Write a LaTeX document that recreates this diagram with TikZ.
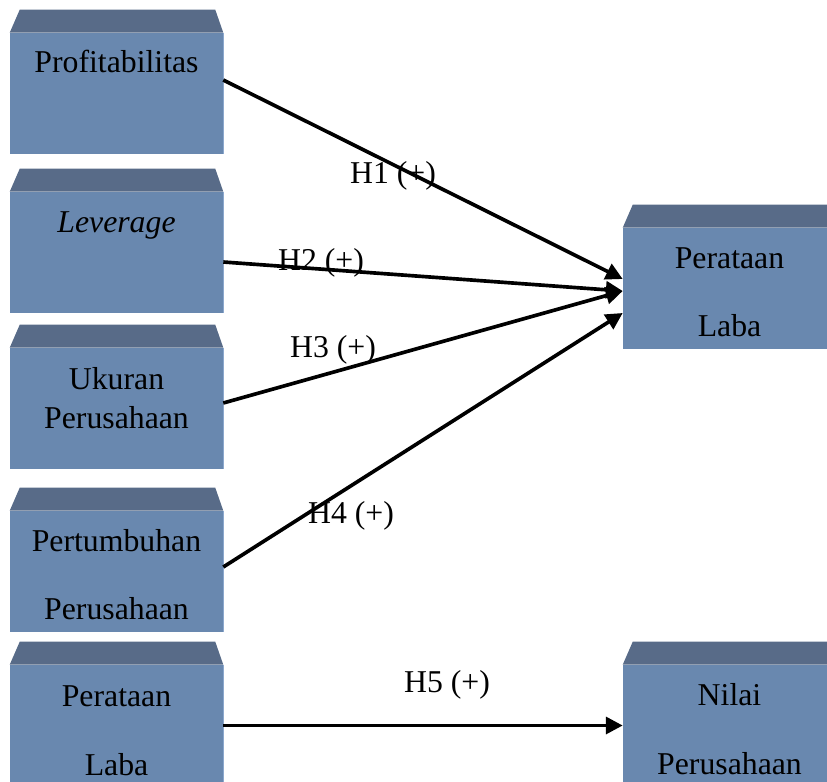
\documentclass[tikz,border=0pt]{standalone}
\usepackage{fontspec}
\setmainfont{Liberation Serif}
\usetikzlibrary{arrows.meta,calc}
\definecolor{mukaBiru}{RGB}{105,136,175}
\definecolor{atasBiru}{RGB}{88,107,136}
\definecolor{tepiBiru}{RGB}{140,168,205}
\tikzset{
  blok/.style={rectangle, fill=mukaBiru, minimum width=53.25mm, minimum height=30.25mm, inner sep=0pt},
  teks/.style={font=\fontsize{22.6}{26}\selectfont, inner sep=0pt, anchor=base},
  panah/.style={line width=2.6pt, -{Triangle[length=4.2mm,width=4.2mm]}}
}
\begin{document}
\begin{tikzpicture}[x=0.25mm,y=-0.25mm]
      \useasboundingbox (0,0) rectangle (827,782);
      \clip (0,0) rectangle (827,782);
      % kotak variabel
      \node[blok] (prof) at (116.5,93.5) {};
      \node[blok] (lev) at (116.5,252.5) {};
      \node[blok] (ukuran) at (116.5,408.5) {};
      \node[blok] (tumbuh) at (116.5,571.5) {};
      \node[blok] (laba2) at (116.5,725.5) {};
      \node[blok] (laba) at (729.5,288.5) {};
      \node[blok] (nilai) at (729.5,725.5) {};
      % sisi atas kotak
      \foreach \n in {prof,lev,ukuran,tumbuh,laba2,laba,nilai}{
        \fill[atasBiru] (\n.north west) -- ($(\n.north west)+(10,-23)$) -- ($(\n.north east)+(-8,-23)$) -- (\n.north east) -- cycle;
        \draw[tepiBiru, line width=1pt] (\n.north east) -- (\n.south east);
      }
      % teks
      \node[teks] (prof-a) at ($(prof.north)+(0,40)$) {Profitabilitas};
      \node[teks] (lev-a) at ($(lev.north)+(0,41)$) {\textit{Leverage}};
      \node[teks] (ukuran-a) at ($(ukuran.north)+(0,42)$) {Ukuran};
      \node[teks] (ukuran-b) at ($(ukuran.north)+(0,81)$) {Perusahaan};
      \node[teks] (tumbuh-a) at ($(tumbuh.north)+(0,41)$) {Pertumbuhan};
      \node[teks] (tumbuh-b) at ($(tumbuh.north)+(0,109)$) {Perusahaan};
      \node[teks] (laba2-a) at ($(laba2.north)+(0,42)$) {Perataan};
      \node[teks] (laba2-b) at ($(laba2.north)+(0,111)$) {Laba};
      \node[teks] (laba-a) at ($(laba.north)+(0,41)$) {Perataan};
      \node[teks] (laba-b) at ($(laba.north)+(0,109)$) {Laba};
      \node[teks] (nilai-a) at ($(nilai.north)+(0,41)$) {Nilai};
      \node[teks] (nilai-b) at ($(nilai.north)+(0,110)$) {Perusahaan};
      % ujung panah
      \coordinate (p1) at ($(prof.east)+(0,-13.5)$);
      \coordinate (p2) at ($(lev.east)+(0,9.5)$);
      \coordinate (p3) at ($(ukuran.east)+(0,-5.5)$);
      \coordinate (p4) at ($(tumbuh.east)+(0,-4.5)$);
      \coordinate (q1) at ($(laba.west)+(0,-9.5)$);
      \coordinate (q2) at ($(laba.west)+(0,2.5)$);
      \coordinate (q4) at ($(laba.west)+(0,24.5)$);
      \foreach \dari/\ke in {p1/q1, p2/q2, p3/q2, p4/q4, laba2.east/nilai.west}
        \draw[panah] (\dari) -- (\ke);
      \foreach \h/\x/\y in {1/393/183, 2/321/270, 3/333/357, 4/351/523, 5/447/692}
        \node[teks] (h\h) at (\x,\y) {H\h\ (+)};
\end{tikzpicture}
\end{document}
